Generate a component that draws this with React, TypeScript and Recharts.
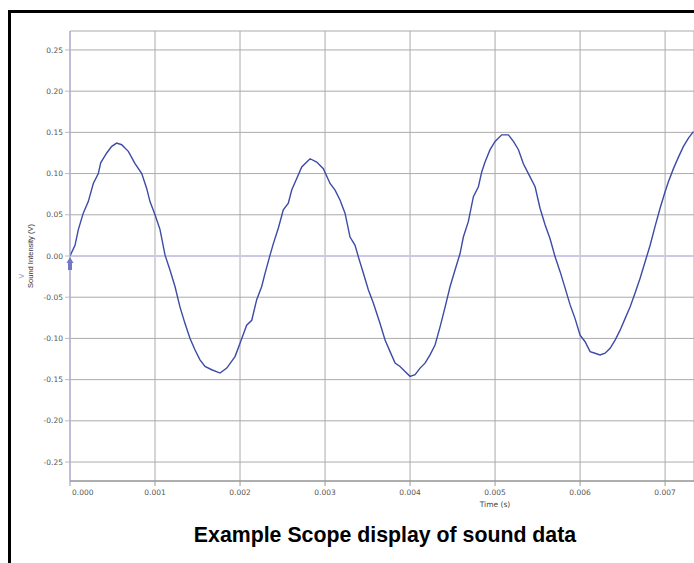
import React from 'react';
import { LineChart, Line, XAxis, YAxis, CartesianGrid, ReferenceLine, ReferenceDot } from 'recharts';

// Scope samples (time in s, intensity in V)
const times = [
  0, 0.000059, 0.000098, 0.000156, 0.000215, 0.000274, 0.000333, 0.000361, 0.000432, 0.000491,
  0.000549, 0.000608, 0.000686, 0.000765, 0.000844, 0.000902, 0.000941, 0.001, 0.001059, 0.001118,
  0.001176, 0.001235, 0.001294, 0.001353, 0.001412, 0.001471, 0.001529, 0.001588, 0.001667, 0.001765,
  0.001844, 0.001941, 0.002, 0.002078, 0.002138, 0.002196, 0.002255, 0.002294, 0.002353, 0.002392,
  0.002451, 0.002509, 0.002568, 0.002608, 0.002667, 0.002726, 0.002785, 0.002824, 0.002902, 0.00298,
  0.003059, 0.003118, 0.003176, 0.003235, 0.003294, 0.003353, 0.003392, 0.003451, 0.003509, 0.003568,
  0.003647, 0.003706, 0.003765, 0.003824, 0.003882, 0.003941, 0.004, 0.004059, 0.004118, 0.004176,
  0.004235, 0.004294, 0.004353, 0.004412, 0.004471, 0.004529, 0.004588, 0.004627, 0.004686, 0.004745,
  0.004804, 0.004843, 0.004882, 0.004941, 0.005, 0.005078, 0.005157, 0.005216, 0.005275, 0.005333,
  0.005392, 0.005471, 0.005529, 0.005588, 0.005647, 0.005706, 0.005765, 0.005824, 0.005882, 0.005941,
  0.006, 0.006059, 0.006118, 0.006176, 0.006235, 0.006294, 0.006353, 0.006412, 0.006471, 0.006529,
  0.006588, 0.006647, 0.006706, 0.006765, 0.006824, 0.006882, 0.006941, 0.007, 0.007039, 0.007098,
  0.007157, 0.007216, 0.007275, 0.007333,
];

const intensity = [
  0.0, 0.013, 0.032, 0.052, 0.066, 0.088, 0.1, 0.113, 0.125, 0.133,
  0.137, 0.135, 0.127, 0.112, 0.1, 0.082, 0.066, 0.05, 0.032, 0.001,
  -0.017, -0.037, -0.062, -0.082, -0.1, -0.114, -0.126, -0.134, -0.138, -0.142,
  -0.136, -0.122, -0.106, -0.084, -0.078, -0.053, -0.037, -0.021, 0.001, 0.015,
  0.034, 0.056, 0.064, 0.08, 0.094, 0.108, 0.114, 0.118, 0.114, 0.106,
  0.088, 0.08, 0.068, 0.052, 0.023, 0.013, -0.001, -0.021, -0.041, -0.057,
  -0.082, -0.102, -0.116, -0.13, -0.134, -0.14, -0.146, -0.144, -0.136, -0.13,
  -0.12, -0.108, -0.086, -0.062, -0.037, -0.017, 0.003, 0.023, 0.042, 0.072,
  0.084, 0.102, 0.114, 0.129, 0.139, 0.147, 0.147, 0.139, 0.129, 0.112,
  0.1, 0.084, 0.058, 0.038, 0.021, -0.001, -0.019, -0.039, -0.059, -0.076,
  -0.096, -0.104, -0.116, -0.118, -0.12, -0.118, -0.112, -0.102, -0.09, -0.076,
  -0.062, -0.045, -0.027, -0.007, 0.013, 0.036, 0.058, 0.078, 0.09, 0.106,
  0.12, 0.133, 0.143, 0.151,
];

const xTicks = [0, 0.001, 0.002, 0.003, 0.004, 0.005, 0.006, 0.007];
const yTicks = [-0.25, -0.2, -0.15, -0.1, -0.05, 0, 0.05, 0.1, 0.15, 0.2, 0.25];

const data = times.map((t, i) => ({ t, v: intensity[i] }));

const tickFont = { fontFamily: 'DejaVu Sans', fontSize: 7.5, fill: '#555' };

function XTick({ x, y, payload }: { x?: number; y?: number; payload?: { value: number } }) {
  const first = payload?.value === 0;
  return (
    <text
      x={first ? (x ?? 0) + 2 : x}
      y={(y ?? 0) + 7}
      textAnchor={first ? 'start' : 'middle'}
      {...tickFont}
    >
      {payload?.value.toFixed(3)}
    </text>
  );
}

// little cursor arrow sitting on the trigger point
function Cursor({ cx, cy }: { cx?: number; cy?: number }) {
  if (cx == null || cy == null) return null;
  return (
    <g fill="#7478c4">
      <polygon points={`${cx},${cy + 1} ${cx - 3.5},${cy + 7} ${cx + 3.5},${cy + 7}`} />
      <rect x={cx - 2} y={cy + 6} width={4} height={8} />
    </g>
  );
}

export default function App() {
  return (
    <div style={{ position: 'absolute', left: 0, top: 0, width: 694, height: 563, overflow: 'hidden', background: '#fff' }}>
      <div style={{ position: 'absolute', left: 8, top: 10, width: 700, height: 3, background: '#000' }} />
      <div style={{ position: 'absolute', left: 8, top: 10, width: 3, height: 560, background: '#000' }} />

      <div style={{ position: 'absolute', left: 0, top: 0 }}>
        <LineChart width={694} height={563} data={data} margin={{ top: 31, right: 0, bottom: 52, left: 0 }}>
          <CartesianGrid stroke="#ababab" strokeWidth={1} />
          <XAxis
            dataKey="t"
            type="number"
            domain={[0, 0.00734]}
            allowDataOverflow
            ticks={xTicks}
            tick={<XTick />}
            height={30}
            tickSize={5}
            axisLine={{ stroke: '#888' }}
            tickLine={{ stroke: '#999' }}
          />
          <YAxis
            type="number"
            domain={[-0.273, 0.273]}
            allowDataOverflow
            ticks={yTicks}
            width={70}
            tickSize={5}
            tickFormatter={(v: number) => v.toFixed(2)}
            tick={tickFont}
            axisLine={{ stroke: '#a9a5dd' }}
            tickLine={{ stroke: '#bbb' }}
          />
          <ReferenceLine y={0} stroke="#ccc9e8" strokeWidth={2} />
          <Line
            type="linear"
            dataKey="v"
            stroke="#3d4aa6"
            strokeWidth={1.4}
            dot={false}
            isAnimationActive={false}
          />
          <ReferenceDot x={0} y={0} shape={<Cursor />} />
        </LineChart>
      </div>

      <div
        style={{
          position: 'absolute', left: 30, top: 256, transform: 'translate(-50%, -50%) rotate(-90deg)',
          fontFamily: 'Liberation Sans, Arial', fontSize: 7.5, color: '#333', whiteSpace: 'nowrap',
        }}
      >
        Sound Intensity (V)
      </div>
      <div style={{ position: 'absolute', left: 18, top: 272, fontFamily: 'DejaVu Sans', fontSize: 8, color: '#9a96d6' }}>
        {'>'}
      </div>
      <div
        style={{
          position: 'absolute', left: 495, top: 504, transform: 'translate(-50%, -50%)',
          fontFamily: 'DejaVu Sans', fontSize: 7.5, color: '#444', whiteSpace: 'nowrap',
        }}
      >
        Time (s)
      </div>
      <div
        style={{
          position: 'absolute', left: 385, top: 535, transform: 'translate(-50%, -50%)',
          fontFamily: 'Liberation Sans, Arial', fontWeight: 'bold', fontSize: 21.3, color: '#000', whiteSpace: 'nowrap',
        }}
      >
        Example Scope display of sound data
      </div>
    </div>
  );
}
